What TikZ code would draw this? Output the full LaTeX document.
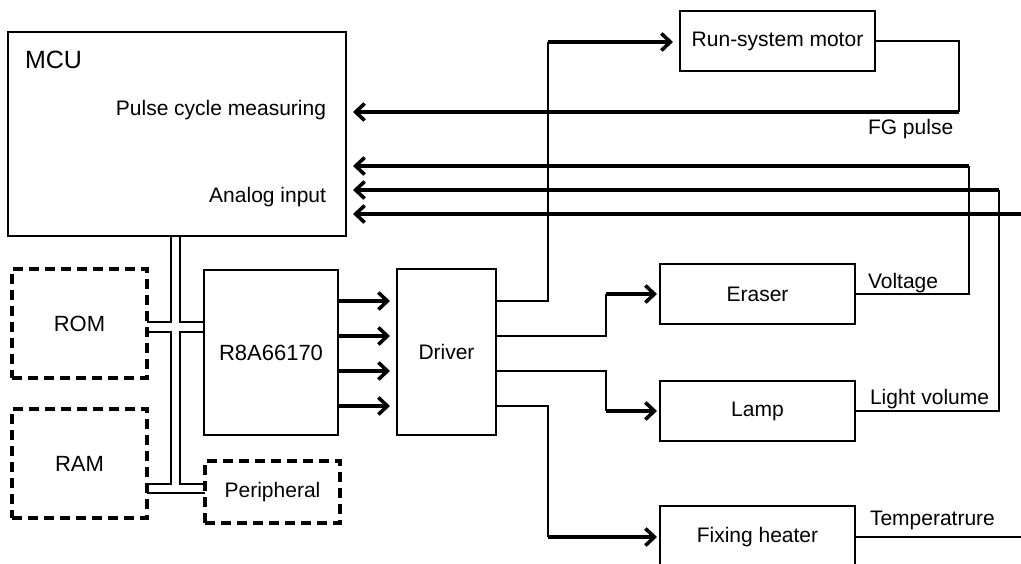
\documentclass[tikz,border=0pt]{standalone}
\usepackage{fontspec}
\setmainfont{Liberation Sans}
\usetikzlibrary{arrows.meta}
\newcommand\fsz[1]{\fontsize{#1pt}{#1pt}\selectfont}
\begin{document}
\begin{tikzpicture}[x=1pt,y=-1pt,
  box/.style={draw, line width=2.5pt, inner sep=0pt, outer sep=0pt, font=\fsz{21}},
  dbox/.style={draw, line width=3.2pt, dash pattern=on 10pt off 6pt, inner sep=0pt, outer sep=0pt, font=\fsz{21}},
  conn/.style={line width=2pt},
  arr/.style={line width=3.6pt, -{Straight Barb[length=9pt,width=17pt]}, shorten >=7pt},
  arrs/.style={arr, shorten >=3pt},
  lbl/.style={inner sep=0pt, outer sep=0pt, font=\fsz{21}}]
\useasboundingbox (0,0) rectangle (1021,564);

% boxes
\node[box, minimum width=338pt, minimum height=204pt] (mcu) at (177,134) {};
\node[box, minimum width=195pt, minimum height=60pt] (motor) at (777.5,41) {Run-system motor};
\node[box, minimum width=195pt, minimum height=60pt] (eraser) at (757.5,294) {Eraser};
\node[box, minimum width=195pt, minimum height=60pt] (lamp) at (757.5,411) {Lamp};
\node[box, minimum width=195pt, minimum height=62pt] (fix) at (757.5,537) {Fixing heater};
\node[box, minimum width=99pt, minimum height=166pt] (drv) at (446.5,352) {Driver};
\node[box, minimum width=134pt, minimum height=165pt, font=\fsz{22}] (r8) at (271,352.5) {R8A66170};
\node[dbox, minimum width=135pt, minimum height=109pt, font=\fsz{22}] (rom) at (79.5,323.5) {ROM};
\node[dbox, minimum width=135pt, minimum height=109pt, font=\fsz{22}] (ram) at (79.5,463.5) {RAM};
\node[dbox, minimum width=135pt, minimum height=62pt] (per) at (272.5,492) {Peripheral};

% labels
\node[lbl, font=\fsz{25}, anchor=base west] (mcut) at (25,69) {MCU};
\node[lbl, anchor=base east] (pcm) at (326,116) {Pulse cycle measuring};
\node[lbl, anchor=base east] (ain) at (326,203) {Analog input};
\node[lbl, anchor=base west] (fgl) at (868,135) {FG pulse};
\node[lbl, anchor=base west] (vl) at (868,289) {Voltage};
\node[lbl, anchor=base west] (lvl) at (870,404) {Light volume};
\node[lbl, anchor=base west] (tl) at (870,525) {Temperatrure};

% helper coordinates
\coordinate (y1) at (0,301);
\coordinate (y2) at (0,336);
\coordinate (y3) at (0,371);
\coordinate (y4) at (0,406);
\coordinate (mj) at (548,42);
\coordinate (ej) at (606,294);
\coordinate (lj) at (606,411);
\coordinate (fj) at (548,537);
\coordinate (fg) at (959,112);
\coordinate (va) at (969,166);
\coordinate (vb) at (999,190);
\coordinate (vc) at (1030,214);

% bus
\draw[conn] (171,236) -- (171,322) -- (rom.east |- 0,322);
\draw[conn] (180,236) -- (180,322) -- (r8.west |- 0,322);
\draw[conn] (rom.east |- 0,332) -- (171,332) -- (171,484) -- (ram.east |- 0,484);
\draw[conn] (r8.west |- 0,332) -- (180,332) -- (180,484) -- (per.west |- 0,484);
\draw[conn] (ram.east |- 0,493) -- (per.west |- 0,493);

% R8A66170 -> Driver
\foreach \c in {y1,y2,y3,y4}
  \draw[arr] (r8.east |- \c) -- (drv.west |- \c);

% Driver outputs
\draw[conn] (drv.east |- y1) -| (mj);
\draw[arr] (mj) -- (motor.west |- mj);
\draw[conn] (drv.east |- y2) -| (ej);
\draw[arrs] (ej) -- (eraser.west);
\draw[conn] (drv.east |- y3) -| (lj);
\draw[arrs] (lj) -- (lamp.west);
\draw[conn] (drv.east |- y4) -| (fj);
\draw[arrs] (fj) -- (fix.west);

% feedback to MCU
\draw[conn] (motor.east) -| (fg);
\draw[arr] (fg) -- (mcu.east |- fg);
\draw[conn] (eraser.east) -| (va);
\draw[arr] (va) -- (mcu.east |- va);
\draw[conn] (lamp.east) -| (vb);
\draw[arr] (vb) -- (mcu.east |- vb);
\draw[arr] (vc) -- (mcu.east |- vc);
\draw[conn] (fix.east) -- (fix.east -| vc);
\end{tikzpicture}
\end{document}
